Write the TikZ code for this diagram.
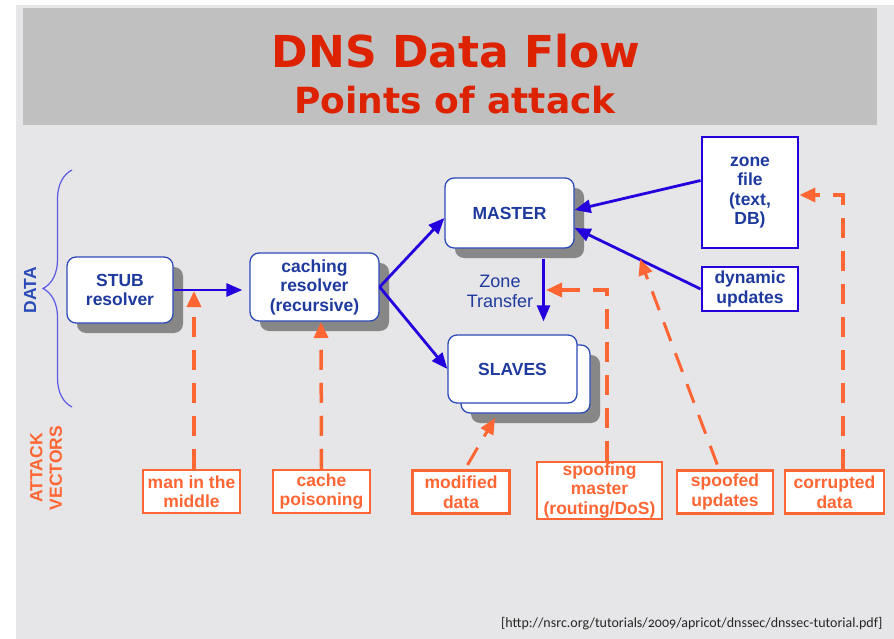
\documentclass[tikz,border=0pt]{standalone}
\usepackage{fontspec}
\setmainfont{Liberation Sans}
\newfontfamily\titlefont{DejaVu Sans}
\newfontfamily\footfont{Carlito}[Numbers=OldStyle]
\usetikzlibrary{positioning,arrows.meta,shadows,decorations.pathreplacing}

\definecolor{pagebg}{HTML}{E6E5E7}
\definecolor{banner}{HTML}{C0C0C0}
\definecolor{titlered}{HTML}{DD2200}
\definecolor{boxblue}{HTML}{2B4BB8}
\definecolor{textblue}{HTML}{1E3A9E}
\definecolor{arrowblue}{HTML}{2200DD}
\definecolor{bracecol}{HTML}{5A5AE6}
\definecolor{attack}{HTML}{FF6633}
\definecolor{shadowgray}{HTML}{878787}

\begin{document}
\begin{tikzpicture}[
        x=1pt, y=-1pt,
        every node/.style={font=\fontsize{17.5}{19.5}\selectfont\bfseries},
        block/.style={draw=boxblue, line width=1.3pt, rounded corners=9pt,
                      fill=white, text=textblue, align=center,
                      minimum width=129pt, minimum height=68pt, inner sep=2pt},
        shadowed/.style={drop shadow={shadow xshift=10pt, shadow yshift=-10pt,
                         fill=shadowgray, opacity=1}},
        source/.style={draw=arrowblue, line width=2.8pt, fill=white,
                       text=textblue, align=center,
                       minimum width=96pt, inner sep=1pt},
        vector/.style={draw=attack, line width=2.5pt, fill=white, text=attack,
                       align=center, minimum width=97pt, minimum height=43pt,
                       inner sep=1pt},
        flow/.style={draw=arrowblue, line width=2.8pt,
                     -{Triangle[length=16pt,width=13pt]}},
        hit/.style={draw=attack, line width=3.5pt, dash pattern=on 20pt off 13pt,
                    -{Triangle[length=16pt,width=14pt]}},
        brace/.style={draw=bracecol, line width=1.2pt,
                      decorate, decoration={brace, amplitude=29pt}}
    ]
        \fill[white] (0,0) rectangle (894,639);
        \fill[pagebg] (16,5) rectangle (894,639);
        \fill[banner] (23,8) rectangle (877,125);
        \useasboundingbox (0,0) rectangle (894,639);

        \node[font=\titlefont\fontsize{44}{48}\selectfont\bfseries, text=titlered,
              anchor=base] (title) at (456,68) {DNS Data Flow};
        \node[font=\titlefont\fontsize{36}{40}\selectfont\bfseries, text=titlered,
              anchor=base] (subtitle) at (455,114) {Points of attack};

        \node[rotate=90, text=boxblue] (data) at (30,290) {DATA};
        \node[rotate=90, text=attack, align=center] (vectors) at (46,468) {ATTACK\\VECTORS};
        \coordinate (bracebot) at (72,407);
        \coordinate (bracetop) at (72,170);
        \draw[brace] (bracebot) -- (bracetop);

        \node[block, shadowed, minimum width=106pt, minimum height=66pt] (stub) at (120,290) {STUB\\resolver};
        \node[block, shadowed] (cache) at (314.5,287) {caching\\resolver\\(recursive)};
        \node[block, shadowed, minimum height=70pt] (master) at (509.5,213) {MASTER};
        \node[block, shadowed] (slavesback) at (525.5,379) {};
        \node[block] (slaves) at (512.5,369) {SLAVES};
        \node[source, minimum height=111pt] (zonefile) at (750,192.5) {zone\\file\\(text,\\DB)};
        \node[source, minimum height=44pt] (dynupd) at (750,289) {dynamic\\updates};
        \node[font=\fontsize{18}{20}\selectfont, text=textblue, align=center] (zt) at (500,291) {Zone\\Transfer};

        \node[vector] (mitm)     at (191.5,491.5) {man in the\\middle};
        \node[vector] (poison)   at (321.5,491.5) {cache\\poisoning};
        \node[vector] (modified) at (461,492) {modified\\data};
        \node[vector, minimum width=125pt, minimum height=57pt] (spoofmaster) at (599.5,490.5) {spoofing\\master\\(routing/DoS)};
        \node[vector, minimum width=96pt] (spoofupd) at (725,492) {spoofed\\updates};
        \node[vector, minimum width=99pt] (corrupt)  at (834.5,492) {corrupted\\data};

        \draw[flow] (stub.east) -- (stub.east -| cache.west) [shorten >=7pt];
        \draw[flow] (cache.east) -- ([yshift=-5pt]master.west);
        \draw[flow] (cache.east) -- (slaves.west);
        \draw[flow, shorten <=10pt, shorten >=13pt] ([xshift=34pt]master.south) -- ([xshift=34pt]master.south |- slaves.north);
        \draw[flow] ([yshift=12pt]zonefile.west) -- ([yshift=3pt]master.east);
        \draw[flow] (dynupd.west) -- ([yshift=-15pt]master.east);

        \coordinate (mitmtip)   at (194,291);
        \coordinate (poisontip) at (321,322);
        \coordinate (modtip)    at (495,418);
        \coordinate (zttip)     at (546,290);
        \coordinate (updtip)    at (640,259);

        \draw[hit] ([xshift=2.5pt]mitm.north) -- (mitmtip);
        \draw[hit] (poison.north) -- (poisontip);
        \draw[hit, line width=3pt, shorten <=5pt] ([xshift=4pt]modified.north) -- (modtip);
        \draw[hit] ([xshift=7.5pt]spoofmaster.north) |- (zttip);
        \draw[hit, line width=3pt, shorten <=5pt] ([xshift=-6pt]spoofupd.north) -- (updtip);
        \draw[hit] ([xshift=8.5pt]corrupt.north) |- ([yshift=-2.5pt]zonefile.east);

        \node[font=\footfont\fontsize{14}{14}\selectfont, text=black!85,
              anchor=base east] (src) at (886,627)
              {[http://nsrc.org/tutorials/2009/apricot/dnssec/dnssec-tutorial.pdf]};
    \end{tikzpicture}
\end{document}
